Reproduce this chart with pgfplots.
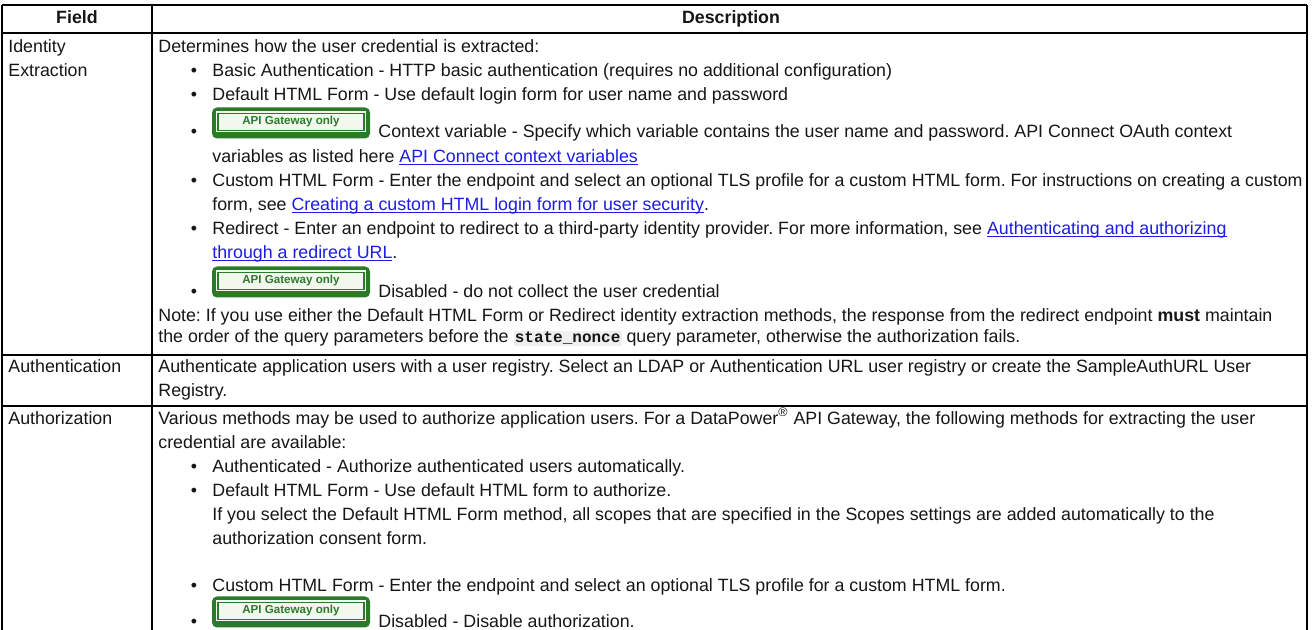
\documentclass[border=0pt]{standalone}
\usepackage{pgfplots}
\pgfplotsset{compat=1.18}
\usepackage{fontspec}
\setmainfont{Liberation Sans}
\setmonofont{Liberation Mono}
\usepackage{xcolor}
\frenchspacing
\definecolor{txt}{HTML}{161616}
\definecolor{lnk}{HTML}{1C1CE6}
\definecolor{bdark}{HTML}{2A7A2A}
\definecolor{bmid}{HTML}{F2F8EE}
\definecolor{bfill}{HTML}{F7FBF4}
\definecolor{btext}{HTML}{2F7A2F}
\definecolor{codebg}{HTML}{EFEFEF}
\newcommand\bodyf{\fontsize{8.9}{12}\selectfont}
\newsavebox\lkbox
\newcommand\lk[1]{\sbox\lkbox{\color{lnk}#1}{\color{lnk}\rlap{\rule[-1.3pt]{\wd\lkbox}{0.45pt}}}\usebox\lkbox}
\newcommand\code[1]{{\setlength\fboxsep{0.6pt}\colorbox{codebg}{\fontsize{8}{10}\selectfont\ttfamily\bfseries #1}}}
\tikzset{tl/.style={anchor=base west, inner sep=0pt, text=txt, font=\bodyf},
  bl/.style={anchor=base, inner sep=0pt, text=txt, font=\bodyf}}
% badge: #1 = top y (pixels)
\newcommand\badge[1]{%
  \fill[bdark, rounded corners=2.5pt] (axis cs:212,{#1+1}) rectangle (axis cs:370,{#1+32});
  \fill[bmid] (axis cs:216,{#1+5}) rectangle (axis cs:366,{#1+26});
  \draw[bdark, line width=0.6pt] (axis cs:218,{#1+7}) rectangle (axis cs:364,{#1+24});
  \node[anchor=base, inner sep=0pt, text=btext, font=\fontsize{5.8}{7}\selectfont\bfseries] at (axis cs:291,{#1+18.5}) {API Gateway only};
}
\begin{document}
\begin{tikzpicture}
\begin{axis}[at={(0,0)}, anchor=south west, scale only axis,
  width=657pt, height=315pt,
  xmin=0, xmax=1314, ymin=0, ymax=630, y dir=reverse,
  axis lines=none, ticks=none, clip=true]
% table rules
\addplot[black, line width=1.3pt] coordinates {(2,5) (1307,5)};
\addplot[black, line width=1pt] coordinates {(2,33) (1307,33)};
\addplot[black, line width=1pt] coordinates {(2,355) (1307,355)};
\addplot[black, line width=1pt] coordinates {(2,406) (1307,406)};
\addplot[black, line width=1pt] coordinates {(2,5) (2,630)};
\addplot[black, line width=1pt] coordinates {(152,5) (152,630)};
\addplot[black, line width=1pt] coordinates {(1307,5) (1307,630)};
% header
\node[bl, font=\bodyf\bfseries] at (axis cs:77,23.5) {Field};
\node[bl, font=\bodyf\bfseries] at (axis cs:731,23.5) {Description};
% column 1
\node[tl] at (axis cs:8,52.5) {Identity};
\node[tl] at (axis cs:8,76.5) {Extraction};
\node[tl] at (axis cs:8,372.5) {Authentication};
\node[tl] at (axis cs:8,424.5) {Authorization};
% row 1
\node[tl] at (axis cs:158,52.5) {Determines how the user credential is extracted:};
\node[bl] at (axis cs:194,76.5) {\textbullet};
\node[tl] at (axis cs:212,76.5) {Basic Authentication - HTTP basic authentication (requires no additional configuration)};
\node[bl] at (axis cs:194,100.5) {\textbullet};
\node[tl] at (axis cs:212,100.5) {Default HTML Form - Use default login form for user name and password};
\badge{106.5}
\node[bl] at (axis cs:194,138) {\textbullet};
\node[tl] at (axis cs:378,138) {Context variable - Specify which variable contains the user name and password. API Connect OAuth context};
\node[tl] at (axis cs:212,162.5) {variables as listed here \lk{API Connect context variables}};
\node[bl] at (axis cs:194,186.5) {\textbullet};
\node[tl] at (axis cs:212,186.5) {Custom HTML Form - Enter the endpoint and select an optional TLS profile for a custom HTML form. For instructions on creating a custom};
\node[tl] at (axis cs:212,210.5) {form, see \lk{Creating a custom HTML login form for user security}.};
\node[bl] at (axis cs:194,234.5) {\textbullet};
\node[tl] at (axis cs:212,234.5) {Redirect - Enter an endpoint to redirect to a third-party identity provider. For more information, see \lk{Authenticating and authorizing}};
\node[tl] at (axis cs:212,258.5) {\lk{through a redirect URL}.};
\badge{265.5}
\node[bl] at (axis cs:194,297.5) {\textbullet};
\node[tl] at (axis cs:378,297.5) {Disabled - do not collect the user credential};
\node[tl] at (axis cs:158,321.5) {Note: If you use either the Default HTML Form or Redirect identity extraction methods, the response from the redirect endpoint \textbf{must} maintain};
\node[tl] at (axis cs:158,343) {the order of the query parameters before the \code{state\_nonce} query parameter, otherwise the authorization fails.};
% row 2
\node[tl] at (axis cs:158,372.5) {Authenticate application users with a user registry. Select an LDAP or Authentication URL user registry or create the SampleAuthURL User};
\node[tl] at (axis cs:158,396.5) {Registry.};
% row 3
\node[tl] at (axis cs:158,424.5) {Various methods may be used to authorize application users. For a DataPower\textsuperscript{®} API Gateway, the following methods for extracting the user};
\node[tl] at (axis cs:158,448.5) {credential are available:};
\node[bl] at (axis cs:194,472.5) {\textbullet};
\node[tl] at (axis cs:212,472.5) {Authenticated - Authorize authenticated users automatically.};
\node[bl] at (axis cs:194,496.5) {\textbullet};
\node[tl] at (axis cs:212,496.5) {Default HTML Form - Use default HTML form to authorize.};
\node[tl] at (axis cs:212,520.5) {If you select the Default HTML Form method, all scopes that are specified in the Scopes settings are added automatically to the};
\node[tl] at (axis cs:212,544.5) {authorization consent form.};
\node[bl] at (axis cs:194,591.5) {\textbullet};
\node[tl] at (axis cs:212,591.5) {Custom HTML Form - Enter the endpoint and select an optional TLS profile for a custom HTML form.};
\badge{595.5}
\node[bl] at (axis cs:194,627.5) {\textbullet};
\node[tl] at (axis cs:378,627.5) {Disabled - Disable authorization.};
\end{axis}
\pgfresetboundingbox
\path[use as bounding box] (0,0) rectangle (657pt,315pt);
\end{tikzpicture}
\end{document}
